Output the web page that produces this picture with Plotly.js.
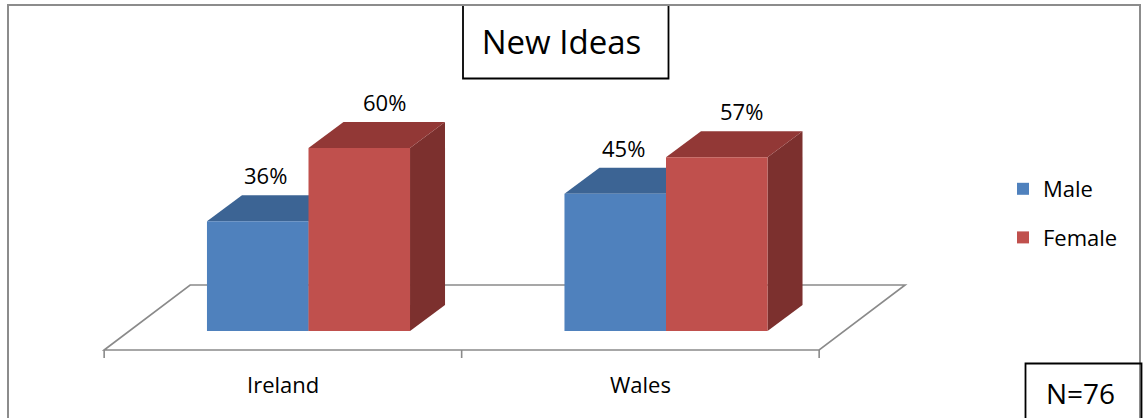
<!DOCTYPE html>
<html><head><meta charset="utf-8">
<script src="https://cdn.plot.ly/plotly-3.0.1.min.js"></script>
<style>html,body{margin:0;padding:0;background:#fff}#chart{width:1143px;height:418px}</style>
</head><body><div id="chart"></div>
<script>
// ---- data ----
const categories = ['Ireland', 'Wales'];
const seriesNames = ['Male', 'Female'];
const maleValues = [36, 45];
const femaleValues = [60, 57];
const chartTitle = 'New Ideas';
const sampleNote = 'N=76';

// ---- styling / geometry ----
const W = 1143, H = 418;
const FONT = '"Open Sans", "Noto Sans", sans-serif';
const X0_PX = 308.5, X_UNIT_PX = 357.5;   // pixel of category 0, px per category
const Y0_PX = 331, Y_UNIT_PX = 3.05;       // pixel of value 0, px per percent
const xRange = [-X0_PX / X_UNIT_PX, (W - X0_PX) / X_UNIT_PX];
const yRange = [-(H - Y0_PX) / Y_UNIT_PX, Y0_PX / Y_UNIT_PX];
const dx = px => px / X_UNIT_PX;
const dy = px => px / Y_UNIT_PX;
const BARGAP = 0.432;
const BAR_W = (1 - BARGAP) / 2;
const DEPTH = {x: dx(35), y: dy(26)};
const FLOOR_FRONT = {x: dx(-25.6), y: dy(-19)};
const FLOOR_BACK = {x: dx(60.4), y: dy(46)};
const frontColors = ['#4F81BD', '#C0504D'];
const topColors = ['#3C6494', '#923836'];
const sideColors = ['#385D8A', '#7C302E'];
const labelDx = [dx(8), dx(25)];
const px = x => x / W;
const py = y => 1 - y / H;

const series = [maleValues, femaleValues];
const xs = categories.map((c, i) => i);

const traces = series.map((vals, s) => ({
  type: 'bar', x: xs, y: vals, name: seriesNames[s],
  legendgroup: seriesNames[s],
  marker: {color: frontColors[s], line: {width: 0}},
  hoverinfo: 'skip'
}));

const shapes = [];
// outer border
shapes.push({type: 'rect', xref: 'paper', yref: 'paper', x0: px(8), x1: px(1140), y0: py(5), y1: py(430),
  line: {color: '#8C8C8C', width: 2}, layer: 'above'});
// floor
const fl = -0.5, fr = categories.length - 0.5;
const P = (x, y) => x + ',' + y;
shapes.push({type: 'path', xref: 'x', yref: 'y', layer: 'below',
  path: 'M' + P(fl + FLOOR_FRONT.x, FLOOR_FRONT.y) + ' L' + P(fl + FLOOR_BACK.x, FLOOR_BACK.y) +
        ' L' + P(fr + FLOOR_BACK.x, FLOOR_BACK.y) + ' L' + P(fr + FLOOR_FRONT.x, FLOOR_FRONT.y) + ' Z',
  line: {color: '#8A8A8A', width: 1.6}, fillcolor: 'rgba(0,0,0,0)'});
// ticks on floor front
for (let k = 0; k <= categories.length; k++) {
  const tx = fl + k + FLOOR_FRONT.x;
  shapes.push({type: 'line', xref: 'x', yref: 'y', layer: 'below',
    x0: tx, x1: tx, y0: FLOOR_FRONT.y, y1: FLOOR_FRONT.y - dy(8),
    line: {color: '#8A8A8A', width: 1.6}});
}
// 3D faces of bars
series.forEach((vals, s) => {
  vals.forEach((v, i) => {
    const xl = i - BAR_W + s * BAR_W, xr = xl + BAR_W;
    shapes.push({type: 'path', xref: 'x', yref: 'y', layer: 'below', line: {width: 0},
      fillcolor: sideColors[s],
      path: 'M' + P(xr, 0) + ' L' + P(xr, v) + ' L' + P(xr + DEPTH.x, v + DEPTH.y) + ' L' + P(xr + DEPTH.x, DEPTH.y) + ' Z'});
    shapes.push({type: 'path', xref: 'x', yref: 'y', layer: 'below', line: {width: 0},
      fillcolor: topColors[s],
      path: 'M' + P(xl, v) + ' L' + P(xr, v) + ' L' + P(xr + DEPTH.x, v + DEPTH.y) + ' L' + P(xl + DEPTH.x, v + DEPTH.y) + ' Z'});
  });
});
// title box
shapes.push({type: 'rect', xref: 'paper', yref: 'paper', x0: px(463), x1: px(668.5), y0: py(5), y1: py(78.5),
  line: {color: '#000', width: 1.8}, fillcolor: '#fff', layer: 'below'});
// N box
shapes.push({type: 'rect', xref: 'paper', yref: 'paper', x0: px(1025.5), x1: px(1141.5), y0: py(363.5), y1: py(430),
  line: {color: '#000', width: 1.8}, fillcolor: 'rgba(255,255,255,0)', layer: 'above'});

const annotations = [];
series.forEach((vals, s) => {
  vals.forEach((v, i) => {
    const xc = i - BAR_W / 2 + s * BAR_W;
    annotations.push({x: xc + labelDx[s], y: v + DEPTH.y, xref: 'x', yref: 'y',
      text: v + '%', showarrow: false, xanchor: 'center', yanchor: 'bottom', yshift: 3,
      font: {family: FONT, size: 22, color: '#000'}});
  });
});
categories.forEach((c, i) => {
  annotations.push({x: i + FLOOR_FRONT.x, y: py(384), xref: 'x', yref: 'paper',
    text: c, showarrow: false, xanchor: 'center', yanchor: 'middle',
    font: {family: FONT, size: 22, color: '#000'}});
});
annotations.push({x: px(1080), y: py(393), xref: 'paper', yref: 'paper', text: sampleNote,
  showarrow: false, xanchor: 'center', yanchor: 'middle', font: {family: FONT, size: 28, color: '#000'}});

const layout = {
  width: W, height: H,
  margin: {l: 0, r: 0, t: 0, b: 0, autoexpand: false},
  paper_bgcolor: '#fff', plot_bgcolor: '#fff',
  title: {text: chartTitle, x: px(561.5), xanchor: 'center', y: py(42.5), yanchor: 'middle',
    font: {family: FONT, size: 33, color: '#000'}},
  barmode: 'group', bargap: BARGAP, bargroupgap: 0,
  xaxis: {range: xRange, visible: false, fixedrange: true},
  yaxis: {range: yRange, visible: false, fixedrange: true},
  showlegend: true,
  legend: {x: px(1003), xanchor: 'left', y: py(168), yanchor: 'top', traceorder: 'grouped',
    tracegroupgap: 17, itemwidth: 30, bgcolor: 'rgba(0,0,0,0)',
    font: {family: FONT, size: 22, color: '#000'}},
  shapes: shapes, annotations: annotations
};

Plotly.newPlot('chart', traces, layout, {displayModeBar: false, staticPlot: true});
</script>
</body></html>
